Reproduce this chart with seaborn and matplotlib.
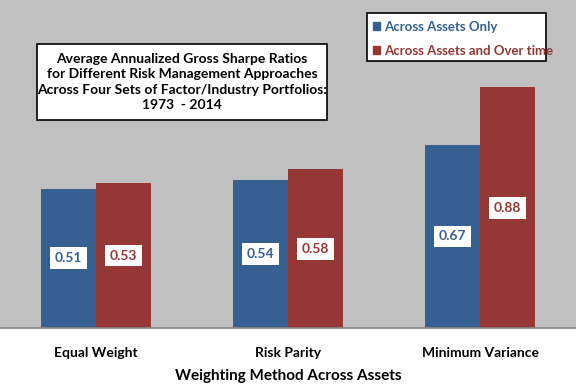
import matplotlib
matplotlib.use("Agg")
import matplotlib.pyplot as plt
import matplotlib.patches as mpatches
import seaborn as sns
import pandas as pd

categories = ["Equal Weight", "Risk Parity", "Minimum Variance"]
series_names = ["Across Assets Only", "Across Assets and Over time"]
across_assets_only = [0.51, 0.54, 0.67]
across_assets_and_time = [0.53, 0.58, 0.88]
title_lines = ["Average Annualized Gross Sharpe Ratios",
               "for Different Risk Management Approaches",
               "Across Four Sets of Factor/Industry Portfolios:",
               "1973  - 2014"]
xlabel = "Weighting Method Across Assets"

blue = "#376092"
red = "#953735"
grey_bg = "#C0C0C0"

df = pd.DataFrame({
    "Method": categories * 2,
    "Series": [series_names[0]] * 3 + [series_names[1]] * 3,
    "Value": across_assets_only + across_assets_and_time,
})

sns.set_theme(style="white")
plt.rcParams["font.family"] = ["Lato", "DejaVu Sans"]

fig = plt.figure(figsize=(5.76, 3.84), dpi=100)
ax = fig.add_axes([0.0, 56 / 384, 1.0, 328 / 384])
ax.set_facecolor(grey_bg)

sns.barplot(data=df, x="Method", y="Value", hue="Series", order=categories,
            hue_order=series_names, palette=[blue, red], width=0.574,
            saturation=1, ax=ax, legend=False, edgecolor="none", linewidth=0)

ax.set_xlim(-0.5, 2.5)
ax.set_ylim(0, 1.2)

# value labels
for cont, col in zip(ax.containers, [blue, red]):
    for bar in cont:
        h = bar.get_height()
        ax.text(bar.get_x() + bar.get_width() / 2, h / 2, f"{h:.2f}",
                ha="center", va="center", fontsize=10, fontweight="bold",
                color=col,
                bbox=dict(boxstyle="square,pad=0.35", fc="white", ec="none"))

# axes styling
for s in ["top", "right", "left"]:
    ax.spines[s].set_visible(False)
ax.spines["bottom"].set_color("#868686")
ax.spines["bottom"].set_linewidth(1.2)
ax.set_yticks([])
ax.set_xticks([0, 1, 2])
ax.set_xticks([-0.5, 0.5, 1.5, 2.5], minor=True)
ax.tick_params(axis="x", which="major", length=0, pad=14)
ax.tick_params(axis="x", which="minor", length=4, color="#868686", width=1)
ax.set_xticklabels(categories, fontsize=10, fontweight="bold", color="black")
ax.set_xlabel(xlabel, fontsize=11, fontweight="bold", color="black", labelpad=7)
ax.set_ylabel("")

# title box
W, H = 576, 328
bx0, bx1, by0, by1 = 37, 327, 44, 120
ax.add_patch(mpatches.Rectangle((bx0 / W, 1 - by1 / H), (bx1 - bx0) / W,
                                (by1 - by0) / H, transform=ax.transAxes,
                                fc="white", ec="black", lw=1.2, zorder=5))
ax.text((bx0 + bx1) / 2 / W, 1 - (by0 + by1) / 2 / H, "\n".join(title_lines),
        transform=ax.transAxes, ha="center", va="center", fontsize=10,
        fontweight="bold", color="black", linespacing=1.36, zorder=6)

# legend box
lx0, lx1, ly0, ly1 = 367, 546, 13, 61
ax.add_patch(mpatches.Rectangle((lx0 / W, 1 - ly1 / H), (lx1 - lx0) / W,
                                (ly1 - ly0) / H, transform=ax.transAxes,
                                fc="white", ec="black", lw=1.2, zorder=5))
handles = [mpatches.Patch(color=blue, label=series_names[0]),
           mpatches.Patch(color=red, label=series_names[1])]
leg = ax.legend(handles=handles, loc="upper left",
                bbox_to_anchor=(373 / W, 1 - 21 / H),
                frameon=False, handlelength=0.55, handleheight=0.55,
                handletextpad=0.3, labelspacing=0.9, borderpad=0,
                borderaxespad=0,
                prop=dict(size=9.5, weight="bold"))
leg.set_zorder(7)
for t, c in zip(leg.get_texts(), [blue, red]):
    t.set_color(c)

fig.savefig("out.png", dpi=100, facecolor="white")
